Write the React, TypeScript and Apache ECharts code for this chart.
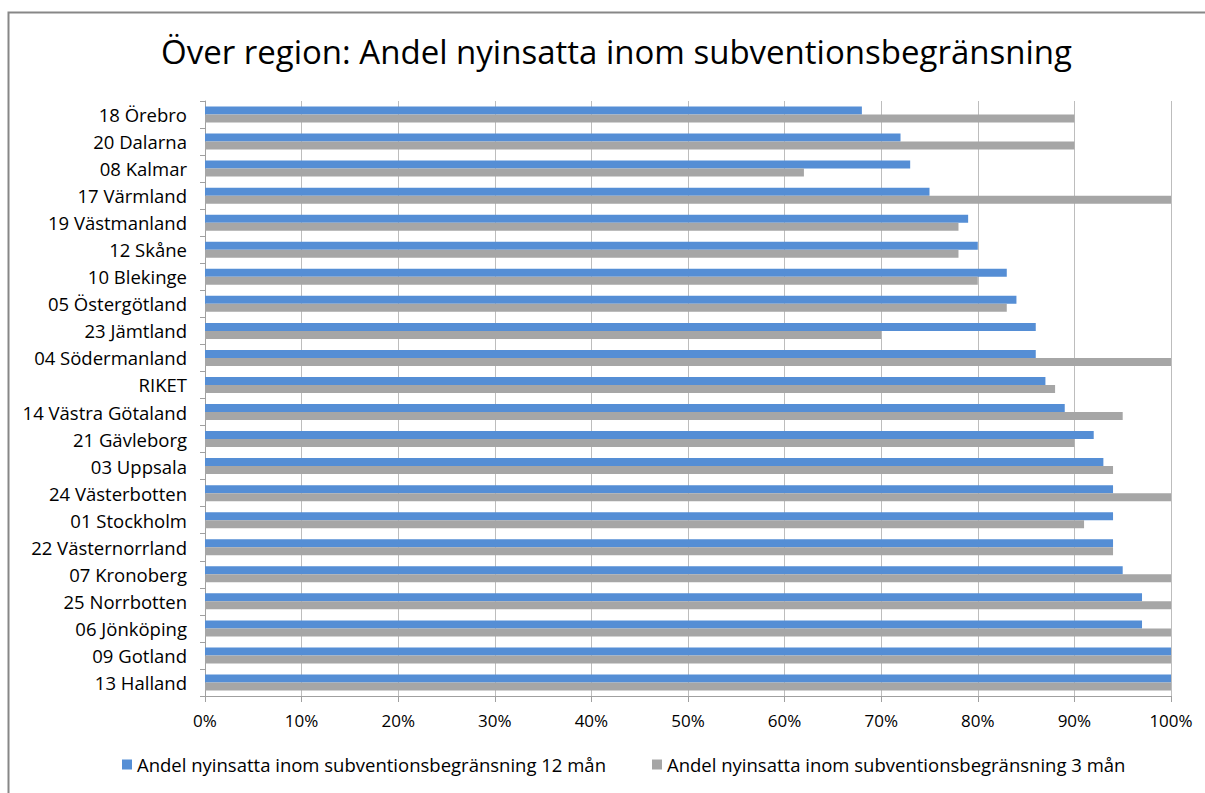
import React, { useEffect, useRef } from "react";
import * as echarts from "echarts";

const categories = [
  "18 Örebro",
  "20 Dalarna",
  "08 Kalmar",
  "17 Värmland",
  "19 Västmanland",
  "12 Skåne",
  "10 Blekinge",
  "05 Östergötland",
  "23 Jämtland",
  "04 Södermanland",
  "RIKET",
  "14 Västra Götaland",
  "21 Gävleborg",
  "03 Uppsala",
  "24 Västerbotten",
  "01 Stockholm",
  "22 Västernorrland",
  "07 Kronoberg",
  "25 Norrbotten",
  "06 Jönköping",
  "09 Gotland",
  "13 Halland",
];

const values12 = [68, 72, 73, 75, 79, 80, 83, 84, 86, 86, 87, 89, 92, 93, 94, 94, 94, 95, 97, 97, 100, 100];
const values3 = [90, 90, 62, 100, 78, 78, 80, 83, 70, 100, 88, 95, 90, 94, 100, 91, 94, 100, 100, 100, 100, 100];

const seriesNames = [
  "Andel nyinsatta inom subventionsbegränsning 12 mån",
  "Andel nyinsatta inom subventionsbegränsning 3 mån",
];
const title = "Över region: Andel nyinsatta inom subventionsbegränsning";

const FONT = "'Open Sans', 'Noto Sans', sans-serif";

export default function App() {
  const ref = useRef<HTMLDivElement>(null);
  useEffect(() => {
    if (!ref.current) return;
    const chart = echarts.init(ref.current, null, { renderer: "svg" });
    chart.setOption({
      animation: false,
      backgroundColor: "#ffffff",
      title: {
        text: title,
        left: 156,
        top: 30,
        textStyle: { fontFamily: FONT, fontSize: 33, fontWeight: "normal", color: "#000000" },
      },
      graphic: [
        {
          type: "rect",
          shape: { x: 8.5, y: 12.5, width: 1210, height: 800 },
          style: { fill: "none", stroke: "#878787", lineWidth: 2 },
          silent: true,
        },
      ],
      legend: {
        bottom: 14,
        left: 117,
        itemWidth: 10,
        itemHeight: 10,
        itemGap: 46,
        icon: "rect",
        textStyle: { fontFamily: FONT, fontSize: 18.5, color: "#000000" },
        data: seriesNames,
      },
      grid: { left: 205, right: 34, top: 101, bottom: 97, containLabel: false },
      xAxis: {
        type: "value",
        min: 0,
        max: 100,
        interval: 10,
        axisLine: { show: true, lineStyle: { color: "#a0a0a0" } },
        axisTick: { show: true, length: 6, lineStyle: { color: "#a0a0a0" } },
        axisLabel: {
          formatter: "{value}%",
          fontFamily: FONT,
          fontSize: 17,
          color: "#000000",
          margin: 16,
        },
        splitLine: { show: true, lineStyle: { color: "#bdbdbd", width: 1 } },
      },
      yAxis: {
        type: "category",
        inverse: true,
        data: categories,
        axisLine: { show: true, lineStyle: { color: "#a0a0a0" } },
        axisTick: { show: true, length: 5, lineStyle: { color: "#a0a0a0" } },
        axisLabel: { fontFamily: FONT, fontSize: 18.5, color: "#000000", margin: 18 },
      },
      series: [
        {
          name: seriesNames[0],
          type: "bar",
          data: values12,
          barWidth: 8,
          barGap: "0%",
          itemStyle: { color: "#558ed5" },
        },
        {
          name: seriesNames[1],
          type: "bar",
          data: values3,
          barWidth: 8,
          barGap: "0%",
          itemStyle: { color: "#a6a6a6" },
        },
      ],
    });
    return () => chart.dispose();
  }, []);
  return (
    <div
      ref={ref}
      style={{ position: "absolute", left: 0, top: 0, width: 1205, height: 793 }}
    />
  );
}
